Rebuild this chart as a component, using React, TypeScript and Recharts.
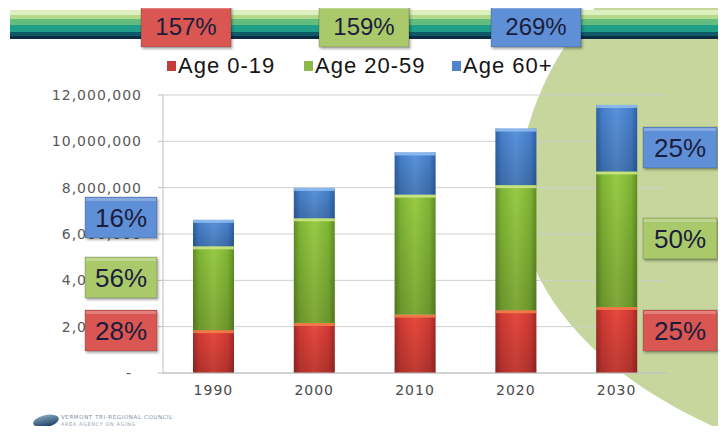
import React from 'react';
import { BarChart, Bar, XAxis, YAxis, CartesianGrid } from 'recharts';

const years = ['1990', '2000', '2010', '2020', '2030'];
const age0to19 = [1850000, 2160000, 2520000, 2710000, 2850000];
const age20to59 = [3620000, 4520000, 5180000, 5400000, 5850000];
const age60plus = [1140000, 1310000, 1820000, 2440000, 2870000];
const yTicks = [0, 2000000, 4000000, 6000000, 8000000, 10000000, 12000000];

const seriesNames = ['Age 0-19', 'Age 20-59', 'Age 60+'];
const growthLabels = ['157%', '159%', '269%'];
const share1990 = ['28%', '56%', '16%'];
const share2030 = ['25%', '50%', '25%'];

const data = years.map((year, i) => ({
  year,
  young: age0to19[i],
  adult: age20to59[i],
  senior: age60plus[i]
}));

const palette = {
  young: { dark: '#a52a28', mid: '#d23a34', light: '#e8493f', top: '#f2824a', box: '#da5752', key: '#c43c3a' },
  adult: { dark: '#5f8f25', mid: '#80b534', light: '#9acb45', top: '#cfe98a', box: '#a9c96b', key: '#8db84a' },
  senior: { dark: '#2f62a8', mid: '#4680cc', light: '#5a94dc', top: '#94c0f0', box: '#5f8fd6', key: '#4f84c9' }
};
const keys: Array<'young' | 'adult' | 'senior'> = ['young', 'adult', 'senior'];

const GradBar = (props: any) => {
  const { x, y, width, height, k } = props;
  if (!height || height <= 0) return null;
  const c = palette[k as 'young'];
  return (
    <g>
      <rect x={x} y={y} width={width} height={height} fill={`url(#h-${k})`} />
      <rect x={x} y={y} width={width} height={height} fill="url(#vshade)" />
      <rect x={x} y={y} width={width} height={Math.min(3, height)} fill={c.top} opacity={0.85} />
    </g>
  );
};

const YTick = (props: any) => {
  const { x, y, payload } = props;
  const v = payload.value as number;
  return (
    <text
      x={x}
      y={y}
      dy={5}
      dx={v === 0 ? -10 : 0}
      textAnchor="end"
      fill="#595959"
      fontSize={14}
      fontFamily="DejaVu Sans"
      letterSpacing={1}
    >
      {v === 0 ? '-' : v.toLocaleString('en-US')}
    </text>
  );
};

const Box = ({ x, y, w, h, fill, text, size }: any) => (
  <g>
    <rect x={x} y={y} width={w} height={h} fill={fill} stroke="rgba(0,0,0,0.18)" filter="url(#shadow)" />
    <rect x={x + 1} y={y + 1} width={w - 2} height={3} fill="rgba(255,255,255,0.25)" />
    <text
      x={x + w / 2}
      y={y + h / 2 + size * 0.36}
      textAnchor="middle"
      fontSize={size}
      fontFamily="Liberation Sans, Arial, sans-serif"
      fill="#1b1d3c"
    >
      {text}
    </text>
  </g>
);

const stripes = [
  { y: 10, h: 5, c: '#dcefbf' },
  { y: 15, h: 4, c: '#b3d98a' },
  { y: 19, h: 6, c: '#62bd7e' },
  { y: 25, h: 7, c: '#1f9e88' },
  { y: 32, h: 4, c: '#0f5a69' },
  { y: 36, h: 3, c: '#0c2c46' }
];

export default function App() {
  const growthBoxes = [141, 319, 491];
  const legendX = [167, 304, 452];
  const leftY = [310, 257, 197];
  const rightY = [310, 218, 127];
  return (
    <div style={{ position: 'relative', width: 726, height: 434, margin: -8, background: '#fff', overflow: 'hidden' }}>
      <svg width={726} height={434} style={{ position: 'absolute', left: 0, top: 0 }}>
        <path d="M 603 0 C 560 40, 520 115, 518 190 C 517 280, 585 372, 726 432 L 726 0 Z" fill="#c6d69d" />
        {stripes.map((s) => (
          <rect key={s.y} x={10} y={s.y} width={716} height={s.h} fill={s.c} />
        ))}
      </svg>
      <div style={{ position: 'absolute', left: 0, top: 0 }}>
        <BarChart width={726} height={434} data={data} margin={{ top: 95, right: 59, bottom: 31, left: 0 }}>
          <defs>
            {keys.map((k) => (
              <linearGradient key={k} id={`h-${k}`} x1="0" y1="0" x2="1" y2="0">
                <stop offset="0%" stopColor={palette[k].dark} />
                <stop offset="15%" stopColor={palette[k].mid} />
                <stop offset="50%" stopColor={palette[k].light} />
                <stop offset="85%" stopColor={palette[k].mid} />
                <stop offset="100%" stopColor={palette[k].dark} />
              </linearGradient>
            ))}
            <linearGradient id="vshade" x1="0" y1="0" x2="0" y2="1">
              <stop offset="0%" stopColor="#000" stopOpacity={0} />
              <stop offset="100%" stopColor="#000" stopOpacity={0.18} />
            </linearGradient>
          </defs>
          <CartesianGrid vertical={false} stroke="#cfcfcf" />
          <XAxis
            dataKey="year"
            height={30}
            axisLine={{ stroke: '#bdbdbd' }}
            tickLine={false}
            tickSize={6}
            tickMargin={6}
            tick={{ fontSize: 14, fill: '#4a4a4a', fontFamily: 'DejaVu Sans', letterSpacing: 1 }}
          />
          <YAxis
            width={163}
            domain={[0, 12000000]}
            ticks={yTicks}
            interval={0}
            axisLine={{ stroke: '#bdbdbd' }}
            tickLine={{ stroke: '#bdbdbd' }}
            tickSize={5}
            tickMargin={16}
            tick={<YTick />}
          />
          {keys.map((k) => (
            <Bar
              key={k}
              dataKey={k}
              stackId="a"
              barSize={41}
              isAnimationActive={false}
              shape={(p: any) => <GradBar {...p} k={k} />}
            />
          ))}
        </BarChart>
      </div>
      <svg width={726} height={434} style={{ position: 'absolute', left: 0, top: 0, pointerEvents: 'none' }}>
        <defs>
          <filter id="shadow" x="-10%" y="-10%" width="130%" height="140%">
            <feDropShadow dx="1.5" dy="2" stdDeviation="1.2" floodColor="#000" floodOpacity="0.3" />
          </filter>
          <linearGradient id="logo" x1="0" y1="0" x2="0" y2="1">
            <stop offset="0%" stopColor="#7fa2bf" />
            <stop offset="100%" stopColor="#1d3f63" />
          </linearGradient>
        </defs>
        {keys.map((k, i) => (
          <Box key={`g${k}`} x={growthBoxes[i]} y={5} w={90} h={42} fill={palette[k].box} text={growthLabels[i]} size={24} />
        ))}
        {keys.map((k, i) => (
          <g key={`l${k}`}>
            <rect x={legendX[i]} y={61} width={9} height={10} fill={palette[k].key} />
            <text
              x={legendX[i] + 11}
              y={73}
              fontSize={22}
              letterSpacing={1}
              fontFamily="Liberation Sans, Arial, sans-serif"
              fill="#151515"
            >
              {seriesNames[i]}
            </text>
          </g>
        ))}
        {keys.map((k, i) => (
          <Box key={`a${k}`} x={85} y={leftY[i]} w={72} h={41} fill={palette[k].box} text={share1990[i]} size={26} />
        ))}
        {keys.map((k, i) => (
          <Box key={`b${k}`} x={643} y={rightY[i]} w={74} h={41} fill={palette[k].box} text={share2030[i]} size={26} />
        ))}
        <ellipse cx={46} cy={421} rx={13} ry={6} fill="url(#logo)" transform="rotate(-12 46 421)" />
        <text x={61} y={419} fontSize={5.5} fill="#7d8fa3" fontFamily="DejaVu Sans" letterSpacing={0.6}>
          VERMONT TRI-REGIONAL COUNCIL
        </text>
        <text x={61} y={426} fontSize={5} fill="#9aa8b6" fontFamily="DejaVu Sans" letterSpacing={0.6}>
          AREA AGENCY ON AGING
        </text>
      </svg>
    </div>
  );
}
